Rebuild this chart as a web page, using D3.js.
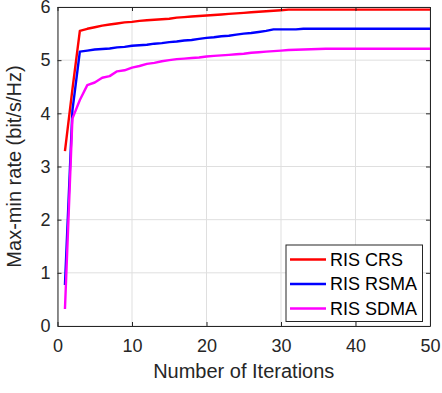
<!DOCTYPE html>
<html>
<head>
<meta charset="utf-8">
<script src="https://cdn.jsdelivr.net/npm/d3@7"></script>
<style>
  body { margin: 0; background: #fff; }
  svg { display: block; font-family: "Liberation Sans", Arial, sans-serif; }
</style>
</head>
<body>
<svg id="chart" width="442" height="393"></svg>
<script>
const width = 442
const height = 393
const margin = { top: 7, right: 12, bottom: 67, left: 57.5 }

const iterations = d3.range(1, 51)
const seriesNames = ['RIS CRS', 'RIS RSMA', 'RIS SDMA']
const seriesColors = ['#ff0000', '#0000ff', '#ff00ff']

// values, one per iteration
const crs = [3.29, 4.45, 5.55, 5.59, 5.62, 5.65, 5.67, 5.69, 5.71, 5.72,
  5.74, 5.75, 5.76, 5.77, 5.78, 5.80, 5.81, 5.82, 5.83, 5.84,
  5.85, 5.86, 5.87, 5.88, 5.89, 5.90, 5.91, 5.92, 5.93, 5.94,
  5.95, 5.95, 5.95, 5.95, 5.95, 5.95, 5.95, 5.95, 5.95, 5.95,
  5.95, 5.95, 5.95, 5.95, 5.95, 5.95, 5.95, 5.95, 5.95, 5.95]
const rsma = [0.77, 4.05, 5.16, 5.18, 5.20, 5.21, 5.22, 5.24, 5.25, 5.27,
  5.28, 5.29, 5.31, 5.32, 5.34, 5.35, 5.37, 5.38, 5.40, 5.42,
  5.43, 5.45, 5.46, 5.48, 5.50, 5.51, 5.53, 5.55, 5.58, 5.58,
  5.58, 5.58, 5.59, 5.59, 5.59, 5.59, 5.59, 5.59, 5.59, 5.59,
  5.59, 5.59, 5.59, 5.59, 5.59, 5.59, 5.59, 5.59, 5.59, 5.59]
const sdma = [0.32, 3.90, 4.25, 4.53, 4.58, 4.67, 4.70, 4.79, 4.81, 4.86,
  4.89, 4.93, 4.95, 4.98, 5.00, 5.02, 5.03, 5.04, 5.05, 5.07,
  5.08, 5.09, 5.10, 5.11, 5.12, 5.14, 5.15, 5.16, 5.17, 5.18,
  5.19, 5.195, 5.20, 5.205, 5.21, 5.215, 5.215, 5.215, 5.215, 5.215,
  5.215, 5.215, 5.215, 5.215, 5.215, 5.215, 5.215, 5.215, 5.215, 5.215]
const seriesValues = [crs, rsma, sdma]

const xTicks = [0, 10, 20, 30, 40, 50]
const yTicks = [0, 1, 2, 3, 4, 5, 6]

const svg = d3.select('#chart')

const x = d3.scaleLinear().domain([0, 50]).range([margin.left, width - margin.right])
const y = d3.scaleLinear().domain([0, 6]).range([height - margin.bottom, margin.top])

const axisColor = '#262626'

// grid
svg.append('g')
  .selectAll('line')
  .data(xTicks)
  .join('line')
  .attr('x1', d => x(d)).attr('x2', d => x(d))
  .attr('y1', y(0)).attr('y2', y(6))
  .attr('stroke', '#dfdfdf').attr('stroke-width', 1)
svg.append('g')
  .selectAll('line')
  .data(yTicks)
  .join('line')
  .attr('x1', x(0)).attr('x2', x(50))
  .attr('y1', d => y(d)).attr('y2', d => y(d))
  .attr('stroke', '#dfdfdf').attr('stroke-width', 1)

// lines
const line = d3.line()
  .x((d, i) => x(iterations[i]))
  .y(d => y(d))

svg.append('g')
  .selectAll('path')
  .data(seriesValues)
  .join('path')
  .attr('d', d => line(d))
  .attr('fill', 'none')
  .attr('stroke', (d, i) => seriesColors[i])
  .attr('stroke-width', 2.4)
  .attr('stroke-linejoin', 'round')

// axes (box with inner ticks)
const styleAxis = g => {
  g.selectAll('.domain').attr('stroke', axisColor)
  g.selectAll('.tick line').attr('stroke', axisColor)
  g.selectAll('.tick text').attr('fill', axisColor).attr('font-size', 18)
    .attr('font-family', '"Liberation Sans", Arial, sans-serif')
}

svg.append('g')
  .attr('transform', `translate(0,${y(0)})`)
  .call(d3.axisBottom(x).tickValues(xTicks).tickSize(-4).tickSizeOuter(0).tickPadding(13))
  .call(styleAxis)
svg.append('g')
  .attr('transform', `translate(0,${y(6)})`)
  .call(d3.axisTop(x).tickValues(xTicks).tickSize(-4).tickSizeOuter(0).tickFormat(''))
  .call(styleAxis)
svg.append('g')
  .attr('transform', `translate(${x(0)},0)`)
  .call(d3.axisLeft(y).tickValues(yTicks).tickSize(-4).tickSizeOuter(0).tickPadding(7).tickFormat(d3.format('d')))
  .call(styleAxis)
svg.append('g')
  .attr('transform', `translate(${x(50)},0)`)
  .call(d3.axisRight(y).tickValues(yTicks).tickSize(-4).tickSizeOuter(0).tickFormat(''))
  .call(styleAxis)

// axis labels
svg.append('text')
  .attr('x', (x(0) + x(50)) / 2)
  .attr('y', 378)
  .attr('text-anchor', 'middle')
  .attr('font-size', 20)
  .attr('fill', axisColor)
  .text('Number of Iterations')

svg.append('text')
  .attr('transform', `translate(21,${(y(0) + y(6)) / 2}) rotate(-90)`)
  .attr('text-anchor', 'middle')
  .attr('font-size', 20)
  .attr('fill', axisColor)
  .text('Max-min rate (bit/s/Hz)')

// legend
const legend = svg.append('g').attr('transform', 'translate(286,245)')
legend.append('rect')
  .attr('width', 136.5).attr('height', 76.5)
  .attr('fill', '#fff').attr('stroke', axisColor).attr('stroke-width', 1)
const rows = legend.selectAll('g.row')
  .data(seriesNames)
  .join('g')
  .attr('class', 'row')
  .attr('transform', (d, i) => `translate(0,${14.5 + i * 24.5})`)
rows.append('line')
  .attr('x1', 4).attr('x2', 40)
  .attr('stroke', (d, i) => seriesColors[i])
  .attr('stroke-width', 2.4)
rows.append('text')
  .attr('x', 44)
  .attr('dy', '0.36em')
  .attr('font-size', 18)
  .attr('fill', '#000')
  .text(d => d)
</script>
</body>
</html>
